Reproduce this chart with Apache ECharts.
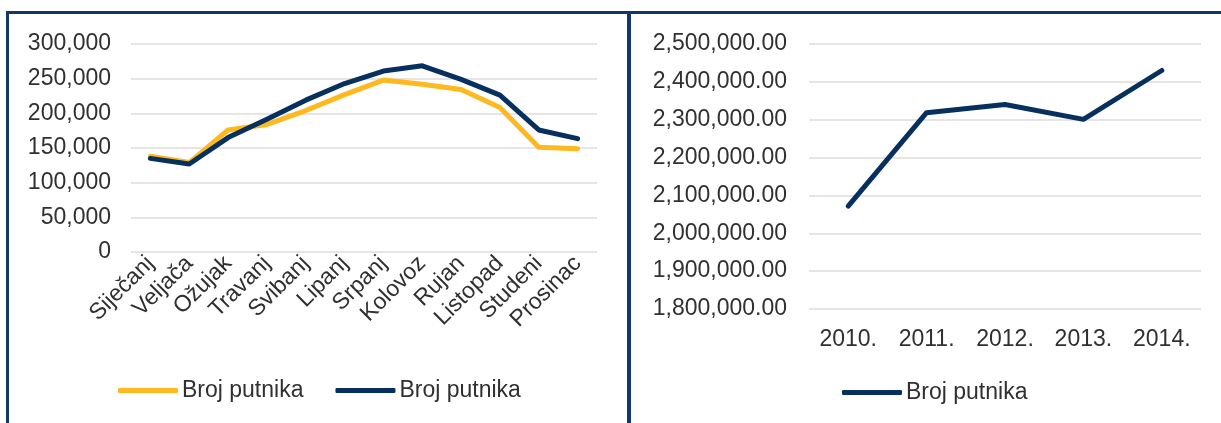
<!DOCTYPE html>
<html>
<head>
<meta charset="utf-8">
<script src="https://cdn.jsdelivr.net/npm/echarts@6/dist/echarts.min.js"></script>
<style>
  html, body { margin: 0; padding: 0; background: #ffffff; }
  #chart { width: 1221px; height: 423px; }
</style>
</head>
<body>
<div id="chart"></div>
<script>
// Monthly passengers (two series) and yearly totals
const months = ['Siječanj', 'Veljača', 'Ožujak', 'Travanj', 'Svibanj', 'Lipanj',
                'Srpanj', 'Kolovoz', 'Rujan', 'Listopad', 'Studeni', 'Prosinac'];
const monthlyA = [138000, 129000, 176000, 184000, 204000, 227000,
                  248000, 242000, 234500, 208500, 151000, 149000];
const monthlyB = [135000, 127000, 165000, 191500, 219000, 243000,
                  261000, 268500, 249000, 226300, 176000, 163500];
const monthlyTicks = { min: 0, max: 300000, step: 50000 };

const years = ['2010.', '2011.', '2012.', '2013.', '2014.'];
const yearly = [2072000, 2318500, 2340000, 2301000, 2430000];
const yearlyTicks = { min: 1800000, max: 2500000, step: 100000 };

const seriesName = 'Broj putnika';
const YELLOW = '#FFB81D';
const NAVY = '#07305F';
const FRAME = '#123868';
const TEXT = '#303030';
const GRID = '#dcdcdc';
const FONT = '"Liberation Sans", Arial, sans-serif';

const fmtInt = v => Math.round(v).toLocaleString('en-US');
const fmtDec = v => v.toLocaleString('en-US', { minimumFractionDigits: 2, maximumFractionDigits: 2 });

const chart = echarts.init(document.getElementById('chart'), null, { renderer: 'canvas' });

const lineStyle = (color) => ({ color: color, width: 5, cap: 'round', join: 'round' });

chart.setOption({
  animation: false,
  backgroundColor: '#ffffff',
  textStyle: { fontFamily: FONT, color: TEXT },
  grid: [
    { left: 131, right: 624, top: 44, bottom: 171 },
    { left: 809, right: 20, top: 44, bottom: 114 }
  ],
  legend: [
    {
      left: 118, top: 379, padding: 0,
      itemWidth: 60, itemHeight: 5, itemGap: 32,
      icon: 'roundRect',
      textStyle: { fontSize: 23, color: TEXT, fontFamily: FONT, padding: [0, 0, 0, -1] },
      data: [
        { name: seriesName, itemStyle: { color: YELLOW } },
        { name: seriesName + ' ', itemStyle: { color: NAVY } }
      ],
      formatter: n => n.trim()
    },
    {
      left: 842, top: 381, padding: 0,
      itemWidth: 60, itemHeight: 5,
      icon: 'roundRect',
      textStyle: { fontSize: 23, color: TEXT, fontFamily: FONT, padding: [0, 0, 0, -1] },
      data: [{ name: seriesName + '  ', itemStyle: { color: NAVY } }],
      formatter: n => n.trim()
    }
  ],
  xAxis: [
    {
      type: 'category', gridIndex: 0, data: months, boundaryGap: true,
      axisLine: { show: false }, axisTick: { show: false },
      axisLabel: { rotate: 45, margin: 8, fontSize: 23, color: TEXT, fontFamily: FONT, interval: 0 }
    },
    {
      type: 'category', gridIndex: 1, data: years, boundaryGap: true,
      axisLine: { show: false }, axisTick: { show: false },
      axisLabel: { margin: 19, fontSize: 23, color: TEXT, fontFamily: FONT, interval: 0 }
    }
  ],
  yAxis: [
    {
      type: 'value', gridIndex: 0,
      min: monthlyTicks.min, max: monthlyTicks.max, interval: monthlyTicks.step,
      axisLine: { show: false }, axisTick: { show: false },
      splitLine: { lineStyle: { color: GRID, width: 1.5 } },
      axisLabel: { margin: 20, fontSize: 23, color: TEXT, fontFamily: FONT, formatter: fmtInt }
    },
    {
      type: 'value', gridIndex: 1,
      min: yearlyTicks.min, max: yearlyTicks.max, interval: yearlyTicks.step,
      axisLine: { show: false }, axisTick: { show: false },
      splitLine: { lineStyle: { color: GRID, width: 1.5 } },
      axisLabel: { margin: 22, fontSize: 23, color: TEXT, fontFamily: FONT, formatter: fmtDec }
    }
  ],
  series: [
    {
      name: seriesName, type: 'line', xAxisIndex: 0, yAxisIndex: 0,
      data: monthlyA, symbol: 'none', color: YELLOW, lineStyle: lineStyle(YELLOW)
    },
    {
      name: seriesName + ' ', type: 'line', xAxisIndex: 0, yAxisIndex: 0,
      data: monthlyB, symbol: 'none', color: NAVY, lineStyle: lineStyle(NAVY)
    },
    {
      name: seriesName + '  ', type: 'line', xAxisIndex: 1, yAxisIndex: 1,
      data: yearly, symbol: 'none', color: NAVY, lineStyle: lineStyle(NAVY)
    }
  ],
  graphic: [
    // outer frame: top edge, left edge and the divider between the two panels
    { type: 'line', shape: { x1: 6, y1: 12.5, x2: 1221, y2: 12.5 }, style: { stroke: FRAME, lineWidth: 3 }, silent: true },
    { type: 'line', shape: { x1: 7.5, y1: 11, x2: 7.5, y2: 423 }, style: { stroke: FRAME, lineWidth: 3 }, silent: true },
    { type: 'line', shape: { x1: 629, y1: 11, x2: 629, y2: 423 }, style: { stroke: FRAME, lineWidth: 4 }, silent: true }
  ]
});
</script>
</body>
</html>
